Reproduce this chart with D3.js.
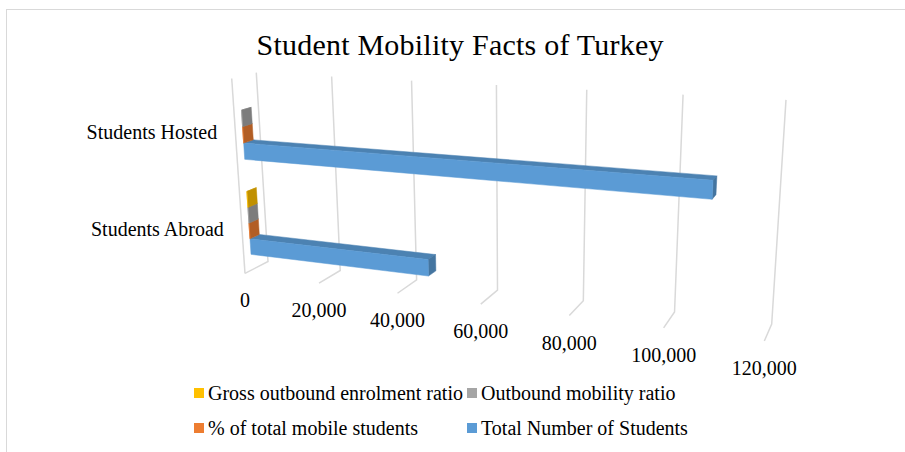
<!DOCTYPE html>
<html>
<head>
<meta charset="utf-8">
<script src="https://cdn.jsdelivr.net/npm/d3@7"></script>
<style>
  body { margin: 0; background: #fff; }
  svg text { font-family: "Liberation Serif", "Times New Roman", serif; fill: #000; }
</style>
</head>
<body>
<div class="d3Chart"></div>
<script>
// data
var categories = ["Students Abroad", "Students Hosted"];
var seriesNames = [
  "Total Number of Students",
  "% of total mobile students",
  "Outbound mobility ratio",
  "Gross outbound enrolment ratio",
];
var totalStudents = [46300, 108000];
var pctMobile = [1.0, 1.2];
var outboundRatio = [0.8, 1.4];
var grossRatio = [0.6, null];
var tickValues = [0, 20000, 40000, 60000, 80000, 100000, 120000];
var seriesColors = ["#5b9bd5", "#ed7d31", "#a5a5a5", "#ffc000"];

var seriesValues = [totalStudents, pctMobile, outboundRatio, grossRatio];

var width = 905;
var height = 452;

var svg = d3
  .select(".d3Chart")
  .append("svg")
  .attr("width", width)
  .attr("height", height);

// chart frame
svg
  .append("rect")
  .attr("x", 6.5)
  .attr("y", 9.5)
  .attr("width", 905)
  .attr("height", 450)
  .attr("fill", "none")
  .attr("stroke", "#d9d9d9");

svg
  .append("text")
  .attr("x", 460)
  .attr("y", 55)
  .attr("text-anchor", "middle")
  .attr("font-size", 30)
  .attr("textLength", 407)
  .text("Student Mobility Facts of Turkey");

// scales: value -> x (0..1), category/series -> height (0..1)
var xScale = d3.scaleLinear().domain([0, 120000]).range([0, 1]);
var catScale = d3
  .scaleBand()
  .domain(categories)
  .range([0, 1])
  .paddingInner(1 / 3)
  .paddingOuter(1 / 6);
var serScale = d3
  .scaleBand()
  .domain(seriesNames)
  .range([0, catScale.bandwidth()]);

// 3D box corners of the plot -> screen (x, y, depth: 0 back, 1 front)
var boxCorners = [
  [0, 0, 0, 268, 262],
  [1, 0, 0, 772, 323],
  [0, 1, 0, 256, 73],
  [1, 1, 0, 786, 100],
  [0, 0, 1, 245, 273],
  [0, 1, 1, 232, 78],
  [1, 0, 1, 764, 342],
];

// fit a perspective projection matrix (least squares, 11 unknowns)
function fitProjection(pts) {
  var rows = [];
  var rhs = [];
  pts.forEach(function (p) {
    var X = p[0], Y = p[1], Z = p[2], u = p[3], v = p[4];
    rows.push([X, Y, Z, 1, 0, 0, 0, 0, -u * X, -u * Y, -u * Z]);
    rhs.push(u);
    rows.push([0, 0, 0, 0, X, Y, Z, 1, -v * X, -v * Y, -v * Z]);
    rhs.push(v);
  });
  var n = 11;
  var M = [];
  for (var i = 0; i < n; i++) {
    M.push([]);
    for (var j = 0; j <= n; j++) M[i].push(0);
  }
  rows.forEach(function (r, k) {
    for (var i = 0; i < n; i++) {
      for (var j = 0; j < n; j++) M[i][j] += r[i] * r[j];
      M[i][n] += r[i] * rhs[k];
    }
  });
  for (var c = 0; c < n; c++) {
    var piv = c;
    for (var r2 = c + 1; r2 < n; r2++)
      if (Math.abs(M[r2][c]) > Math.abs(M[piv][c])) piv = r2;
    var tmp = M[c]; M[c] = M[piv]; M[piv] = tmp;
    for (var r3 = 0; r3 < n; r3++) {
      if (r3 === c) continue;
      var f = M[r3][c] / M[c][c];
      for (var k2 = c; k2 <= n; k2++) M[r3][k2] -= f * M[c][k2];
    }
  }
  return M.map(function (row, i) { return row[n] / row[i]; });
}

var P = fitProjection(boxCorners);

function project(value, h, d) {
  var X = xScale(value);
  var w = P[8] * X + P[9] * h + P[10] * d + 1;
  return [
    (P[0] * X + P[1] * h + P[2] * d + P[3]) / w,
    (P[4] * X + P[5] * h + P[6] * d + P[7]) / w,
  ];
}

var lineGen = d3.line();

// gridlines: back wall + floor
var grid = svg.append("g").attr("class", "grid");
var gridLines = [];
tickValues.forEach(function (t) {
  gridLines.push([project(t, 1, 0), project(t, 0, 0), project(t, 0, 1)]);
});
gridLines.push([project(0, 1, 1), project(0, 0, 1)]);

grid
  .selectAll("path")
  .data(gridLines)
  .enter()
  .append("path")
  .attr("d", lineGen)
  .attr("fill", "none")
  .attr("stroke", "#d9d9d9")
  .attr("stroke-width", 1.5);

// bars
var depthFront = 0.7;
var depthBack = 0.3;
var faces = [];
categories.forEach(function (cat, ci) {
  seriesNames.forEach(function (s, si) {
    var val = seriesValues[si][ci];
    if (val == null) return;
    var h0 = catScale(cat) + serScale(s);
    var h1 = h0 + serScale.bandwidth();
    var base = d3.color(seriesColors[si]);
    faces.push({
      pts: [project(0, h1, depthBack), project(val, h1, depthBack), project(val, h1, depthFront), project(0, h1, depthFront)],
      fill: base.darker(0.5).formatHex(),
    });
    faces.push({
      pts: [project(val, h0, depthFront), project(val, h1, depthFront), project(val, h1, depthBack), project(val, h0, depthBack)],
      fill: base.darker(0.8).formatHex(),
    });
    faces.push({
      pts: [project(0, h0, depthFront), project(val, h0, depthFront), project(val, h1, depthFront), project(0, h1, depthFront)],
      fill: base.formatHex(),
    });
  });
});

svg
  .append("g")
  .selectAll("path")
  .data(faces)
  .enter()
  .append("path")
  .attr("d", function (d) { return lineGen(d.pts) + "Z"; })
  .attr("fill", function (d) { return d.fill; })
  .attr("stroke", function (d) { return d.fill; })
  .attr("stroke-width", 0.5);

// value axis labels
svg
  .append("g")
  .selectAll("text")
  .data(tickValues)
  .enter()
  .append("text")
  .attr("x", function (t) { return project(t, 0, 1)[0]; })
  .attr("y", function (t) { return project(t, 0, 1)[1] + 27; })
  .attr("dy", "0.35em")
  .attr("text-anchor", "middle")
  .attr("font-size", 20)
  .text(d3.format(","));

// category labels
svg
  .append("g")
  .selectAll("text")
  .data(categories)
  .enter()
  .append("text")
  .attr("x", function (c) { return project(0, catScale(c) + catScale.bandwidth() / 2, 1)[0] - 18; })
  .attr("y", function (c) { return project(0, catScale(c) + catScale.bandwidth() / 2, 1)[1] + 3; })
  .attr("dy", "0.35em")
  .attr("text-anchor", "end")
  .attr("font-size", 20)
  .text(function (c) { return c; });

// legend (reversed order, two columns)
var legendOrder = [3, 2, 1, 0];
var legendX = [194, 467];
var legendY = [393, 428];
var legend = svg
  .append("g")
  .selectAll("g")
  .data(legendOrder)
  .enter()
  .append("g")
  .attr("transform", function (si, i) {
    return "translate(" + legendX[i % 2] + "," + legendY[Math.floor(i / 2)] + ")";
  });
legend
  .append("rect")
  .attr("x", 0)
  .attr("y", -5)
  .attr("width", 10)
  .attr("height", 10)
  .attr("fill", function (si) { return seriesColors[si]; });
legend
  .append("text")
  .attr("x", 14)
  .attr("dy", "0.35em")
  .attr("font-size", 20)
  .text(function (si) { return seriesNames[si]; });
</script>
</body>
</html>
